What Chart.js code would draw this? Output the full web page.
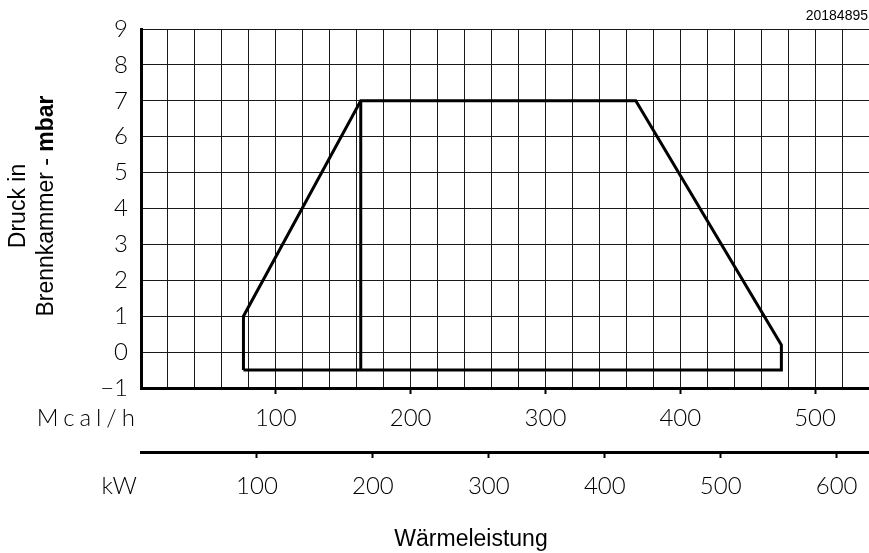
<!DOCTYPE html>
<html>
<head>
<meta charset="utf-8">
<script src="https://cdn.jsdelivr.net/npm/chart.js@4.4.1/dist/chart.umd.min.js"></script>
<style>
    html, body { margin: 0; padding: 0; background: #fff; }
    #wrap { width: 869px; height: 553px; }
</style>
</head>
<body>
<div id="wrap"><canvas id="chart" width="869" height="553"></canvas></div>
<script>
// Arbeitsfeld (Mcal/h gegen mbar)
const envelopeMcal = [76, 76, 163, 367, 475, 475, 76];
const envelopeMbar = [-0.5, 1, 7, 7, 0.2, -0.5, -0.5];
// senkrechte Trennlinie
const splitMcal = [163, 163];
const splitMbar = [7, -0.5];

const mcalMin = 0;
const mcalMax = 540;
const mcalGridStep = 20;
const mcalLabelStep = 100;
const kwLabelStep = 100;
const mcalPerKw = 0.86;
const mbarMin = -1;
const mbarMax = 9;

// Abstand Achse -> Mitte der Beschriftung (ueber lineHeight geregelt)
const mcalLabelGap = 24.4;
const kwLabelGap = 28.4;

const titleFont = '23px "Liberation Sans", Arial, sans-serif';
const titleFontBold = 'bold 23px "Liberation Sans", Arial, sans-serif';

function toPoints(xs, ys) {
    return xs.map((x, i) => ({ x: x, y: ys[i] }));
}

function isMajor(v, step) {
    return v > 0 && Math.abs(v % step) < 1e-6;
}

const textPlugin = {
    id: 'extraText',
    afterDraw(chart) {
        const ctx = chart.ctx;
        const xs = chart.scales.x;
        const kw = chart.scales.kw;
        ctx.save();
        ctx.fillStyle = '#000';

        // Einheiten links von den Achsenbeschriftungen
        ctx.font = '300 24px Lato';
        ctx.textAlign = 'right';
        ctx.textBaseline = 'middle';
        ctx.letterSpacing = '5px';
        ctx.fillText('Mcal/h', 140, xs.top + 6 + mcalLabelGap);
        ctx.letterSpacing = '0px';
        ctx.fillText('kW', 137, kw.top + 6 + kwLabelGap);

        // Achsentitel unten
        ctx.font = titleFont;
        ctx.textAlign = 'center';
        ctx.textBaseline = 'alphabetic';
        ctx.fillText('Wärmeleistung', 471, 546);

        // Kennnummer
        ctx.font = '14px "Liberation Sans", Arial, sans-serif';
        ctx.textAlign = 'right';
        ctx.fillText('20184895', 868, 20);

        // Y-Titel, zweizeilig, gedreht
        ctx.translate(0, 206);
        ctx.rotate(-Math.PI / 2);
        ctx.textAlign = 'center';
        ctx.textBaseline = 'middle';
        ctx.font = titleFont;
        ctx.fillText('Druck in', 0, 19);

        const part1 = 'Brennkammer - ';
        const part2 = 'mbar';
        const w1 = ctx.measureText(part1).width;
        ctx.font = titleFontBold;
        const w2 = ctx.measureText(part2).width;
        const start = -(w1 + w2) / 2;
        ctx.textAlign = 'left';
        ctx.font = titleFont;
        ctx.fillText(part1, start, 47);
        ctx.font = titleFontBold;
        ctx.fillText(part2, start + w1, 47);
        ctx.restore();
    }
};

const ctx = document.getElementById('chart').getContext('2d');

new Chart(ctx, {
    type: 'scatter',
    data: {
        datasets: [
            {
                data: toPoints(envelopeMcal, envelopeMbar),
                showLine: true,
                borderColor: '#000',
                borderWidth: 3,
                borderJoinStyle: 'miter',
                pointRadius: 0,
                tension: 0,
                fill: false,
                xAxisID: 'x',
                yAxisID: 'y'
            },
            {
                data: toPoints(splitMcal, splitMbar),
                showLine: true,
                borderColor: '#000',
                borderWidth: 3,
                pointRadius: 0,
                fill: false,
                xAxisID: 'x',
                yAxisID: 'y'
            }
        ]
    },
    options: {
        responsive: false,
        animation: false,
        layout: {
            padding: { top: 29, right: 0, bottom: 41, left: 0 }
        },
        scales: {
            x: {
                type: 'linear',
                position: 'bottom',
                weight: 1,
                min: mcalMin,
                max: mcalMax,
                afterFit: s => { s.height = 64; },
                border: { display: true, color: '#000', width: 3 },
                grid: {
                    color: '#1a1a1a',
                    lineWidth: 1,
                    drawTicks: true,
                    tickLength: 6,
                    tickWidth: 2,
                    tickColor: c => isMajor(c.tick.value, mcalLabelStep) ? '#000' : 'rgba(0,0,0,0)'
                },
                ticks: {
                    stepSize: mcalGridStep,
                    autoSkip: false,
                    maxRotation: 0,
                    padding: 0,
                    color: '#000',
                    font: { family: 'Lato', size: 24, weight: '300', lineHeight: (mcalLabelGap * 2) + 'px' },
                    callback: v => isMajor(v, mcalLabelStep) ? String(v) : ''
                }
            },
            kw: {
                type: 'linear',
                position: 'bottom',
                weight: 2,
                min: mcalMin / mcalPerKw,
                max: mcalMax / mcalPerKw,
                afterFit: s => { s.height = 60; },
                border: { display: true, color: '#000', width: 3 },
                grid: {
                    drawOnChartArea: false,
                    drawTicks: true,
                    tickLength: 6,
                    tickWidth: 2,
                    tickColor: c => isMajor(c.tick.value, kwLabelStep) ? '#000' : 'rgba(0,0,0,0)'
                },
                ticks: {
                    stepSize: kwLabelStep,
                    includeBounds: false,
                    autoSkip: false,
                    maxRotation: 0,
                    padding: 0,
                    color: '#000',
                    font: { family: 'Lato', size: 24, weight: '300', lineHeight: (kwLabelGap * 2) + 'px' },
                    callback: v => isMajor(v, kwLabelStep) ? String(v) : ''
                }
            },
            y: {
                type: 'linear',
                min: mbarMin,
                max: mbarMax,
                afterFit: s => { s.width = 141; },
                border: { display: true, color: '#000', width: 3 },
                grid: {
                    color: '#1a1a1a',
                    lineWidth: 1,
                    drawTicks: false
                },
                ticks: {
                    stepSize: 1,
                    padding: 13,
                    color: '#000',
                    font: { family: 'Lato', size: 24, weight: '300' },
                    callback: v => v < 0 ? '\u2212' + Math.abs(v) : String(v)
                }
            }
        },
        plugins: {
            legend: { display: false },
            tooltip: { enabled: false },
            title: { display: false }
        }
    },
    plugins: [textPlugin]
});
</script>
</body>
</html>
